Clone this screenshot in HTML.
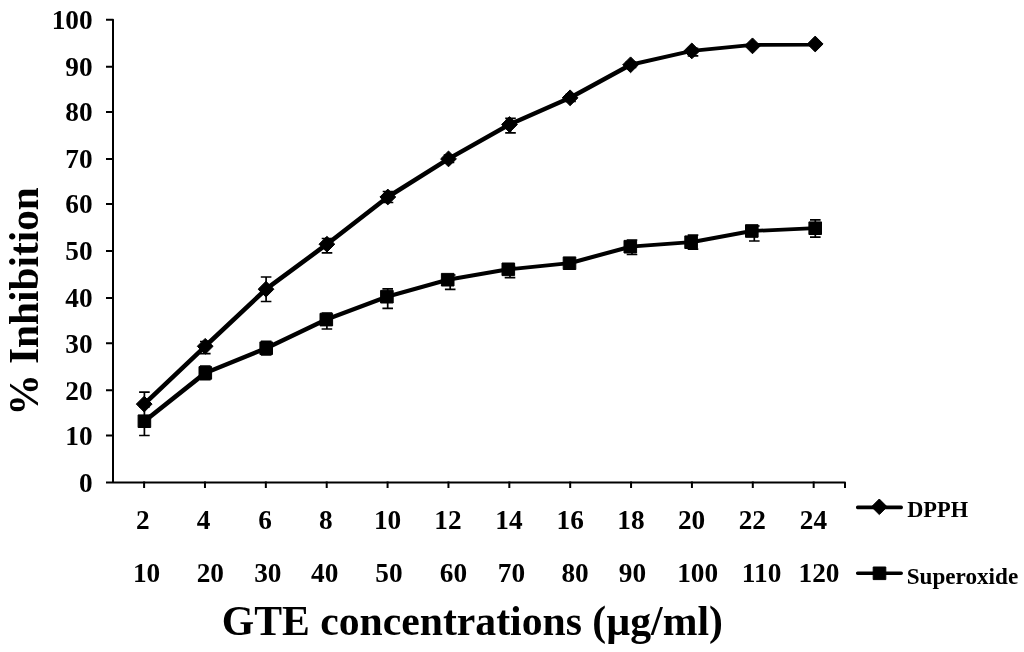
<!DOCTYPE html>
<html><head><meta charset="utf-8"><style>
html,body{margin:0;padding:0;background:#fff;width:1024px;height:652px;overflow:hidden}
svg{display:block;will-change:transform}
text{font-family:"Liberation Serif",serif;font-weight:bold;fill:#000}
</style></head><body>
<svg width="1024" height="652" viewBox="0 0 1024 652">
<rect width="1024" height="652" fill="#fff"/>

<g stroke="#000" stroke-width="2" fill="none" stroke-linecap="square">
<path d="M107,19.85 H113 V482.4 M107,482.4 H845 V487" stroke-linejoin="round"/>
<path d="M107,435.40H113M107,390.20H113M107,343.20H113M107,298.00H113M107,251.10H113M107,204.10H113M107,158.90H113M107,112.00H113M107,66.75H113"/>
<path d="M144.10,482.4V487M204.97,482.4V487M265.84,482.4V487M326.71,482.4V487M387.58,482.4V487M448.45,482.4V487M509.32,482.4V487M570.19,482.4V487M631.06,482.4V487M691.93,482.4V487M752.80,482.4V487M813.67,482.4V487"/>
</g>
<text x="92.6" y="491.70" font-size="27.3" text-anchor="end">0</text>
<text x="92.6" y="444.70" font-size="27.3" text-anchor="end">10</text>
<text x="92.6" y="399.50" font-size="27.3" text-anchor="end">20</text>
<text x="92.6" y="352.50" font-size="27.3" text-anchor="end">30</text>
<text x="92.6" y="307.30" font-size="27.3" text-anchor="end">40</text>
<text x="92.6" y="260.40" font-size="27.3" text-anchor="end">50</text>
<text x="92.6" y="213.40" font-size="27.3" text-anchor="end">60</text>
<text x="92.6" y="168.20" font-size="27.3" text-anchor="end">70</text>
<text x="92.6" y="121.30" font-size="27.3" text-anchor="end">80</text>
<text x="92.6" y="76.05" font-size="27.3" text-anchor="end">90</text>
<text x="92.6" y="29.15" font-size="27.3" text-anchor="end">100</text>
<text x="142.80" y="528.5" font-size="27.3" text-anchor="middle">2</text>
<text x="203.70" y="528.5" font-size="27.3" text-anchor="middle">4</text>
<text x="265.00" y="528.5" font-size="27.3" text-anchor="middle">6</text>
<text x="325.90" y="528.5" font-size="27.3" text-anchor="middle">8</text>
<text x="387.60" y="528.5" font-size="27.3" text-anchor="middle">10</text>
<text x="448.00" y="528.5" font-size="27.3" text-anchor="middle">12</text>
<text x="509.00" y="528.5" font-size="27.3" text-anchor="middle">14</text>
<text x="570.20" y="528.5" font-size="27.3" text-anchor="middle">16</text>
<text x="631.00" y="528.5" font-size="27.3" text-anchor="middle">18</text>
<text x="691.60" y="528.5" font-size="27.3" text-anchor="middle">20</text>
<text x="752.30" y="528.5" font-size="27.3" text-anchor="middle">22</text>
<text x="813.50" y="528.5" font-size="27.3" text-anchor="middle">24</text>
<text x="146.60" y="581.8" font-size="27.3" text-anchor="middle">10</text>
<text x="210.30" y="581.8" font-size="27.3" text-anchor="middle">20</text>
<text x="267.80" y="581.8" font-size="27.3" text-anchor="middle">30</text>
<text x="324.70" y="581.8" font-size="27.3" text-anchor="middle">40</text>
<text x="389.00" y="581.8" font-size="27.3" text-anchor="middle">50</text>
<text x="453.50" y="581.8" font-size="27.3" text-anchor="middle">60</text>
<text x="511.50" y="581.8" font-size="27.3" text-anchor="middle">70</text>
<text x="575.10" y="581.8" font-size="27.3" text-anchor="middle">80</text>
<text x="632.40" y="581.8" font-size="27.3" text-anchor="middle">90</text>
<text x="697.70" y="581.8" font-size="27.3" text-anchor="middle">100</text>
<text x="761.60" y="581.8" font-size="27.3" text-anchor="middle">110</text>
<text x="819.00" y="581.8" font-size="27.3" text-anchor="middle">120</text>
<text x="221.8" y="635.3" font-size="41.7">GTE concentrations (µg/ml)</text>
<text transform="translate(38.3,415.6) rotate(-90)" x="0" y="0" font-size="41.3">% Inhibition</text>
<path d="M144.40,392.10V416.00M139.10,392.10H149.70M139.10,416.00H149.70M205.30,341.50V353.60M200.00,341.50H210.60M200.00,353.60H210.60M266.10,277.00V301.50M260.80,277.00H271.40M260.80,301.50H271.40M327.00,238.50V252.90M321.70,238.50H332.30M321.70,252.90H332.30M388.00,191.50V202.50M382.70,191.50H393.30M382.70,202.50H393.30M449.00,155.00V162.50M443.70,155.00H454.30M443.70,162.50H454.30M510.50,118.40V132.80M505.20,118.40H515.80M505.20,132.80H515.80M570.50,94.50V101.30M565.20,94.50H575.80M565.20,101.30H575.80M631.00,62.00V67.50M625.70,62.00H636.30M625.70,67.50H636.30M693.00,48.30V55.80M687.70,48.30H698.30M687.70,55.80H698.30M753.00,44.50V47.00M747.70,44.50H758.30M747.70,47.00H758.30M815.30,43.00V45.00M810.00,43.00H820.60M810.00,45.00H820.60M144.40,407.00V435.50M139.10,407.00H149.70M139.10,435.50H149.70M205.30,366.00V379.70M200.00,366.00H210.60M200.00,379.70H210.60M266.20,341.40V355.00M260.90,341.40H271.50M260.90,355.00H271.50M326.90,313.00V329.00M321.60,313.00H332.20M321.60,329.00H332.20M387.70,288.80V308.30M382.40,288.80H393.00M382.40,308.30H393.00M450.20,275.00V289.30M444.90,275.00H455.50M444.90,289.30H455.50M510.00,266.70V277.70M504.70,266.70H515.30M504.70,277.70H515.30M569.50,258.00V268.00M564.20,258.00H574.80M564.20,268.00H574.80M632.00,240.00V254.50M626.70,240.00H637.30M626.70,254.50H637.30M693.00,235.20V249.20M687.70,235.20H698.30M687.70,249.20H698.30M754.30,226.00V241.00M749.00,226.00H759.60M749.00,241.00H759.60M815.30,219.90V237.20M810.00,219.90H820.60M810.00,237.20H820.60" stroke="#000" stroke-width="1.7" fill="none"/>
<g stroke="#000" stroke-linecap="round"><line x1="144.20" y1="404.10" x2="205.20" y2="346.30" stroke-width="4.60"/><line x1="205.20" y1="346.30" x2="266.00" y2="289.20" stroke-width="4.60"/><line x1="266.00" y1="289.20" x2="326.90" y2="244.20" stroke-width="4.56"/><line x1="326.90" y1="244.20" x2="387.80" y2="197.00" stroke-width="4.57"/><line x1="387.80" y1="197.00" x2="448.50" y2="158.90" stroke-width="4.50"/><line x1="448.50" y1="158.90" x2="509.50" y2="124.50" stroke-width="4.46"/><line x1="509.50" y1="124.50" x2="570.10" y2="97.80" stroke-width="4.34"/><line x1="570.10" y1="97.80" x2="630.60" y2="64.80" stroke-width="4.44"/><line x1="630.60" y1="64.80" x2="691.80" y2="50.90" stroke-width="4.03"/><line x1="691.80" y1="50.90" x2="752.50" y2="44.90" stroke-width="3.80"/><line x1="752.50" y1="44.90" x2="815.20" y2="44.80" stroke-width="3.60"/><line x1="144.40" y1="421.20" x2="205.30" y2="372.90" stroke-width="4.57"/><line x1="205.30" y1="372.90" x2="266.20" y2="348.20" stroke-width="4.30"/><line x1="266.20" y1="348.20" x2="326.30" y2="319.60" stroke-width="4.38"/><line x1="326.30" y1="319.60" x2="386.90" y2="296.70" stroke-width="4.26"/><line x1="386.90" y1="296.70" x2="447.70" y2="279.70" stroke-width="4.12"/><line x1="447.70" y1="279.70" x2="508.30" y2="269.30" stroke-width="3.93"/><line x1="508.30" y1="269.30" x2="569.50" y2="263.20" stroke-width="3.80"/><line x1="569.50" y1="263.20" x2="630.30" y2="246.70" stroke-width="4.11"/><line x1="630.30" y1="246.70" x2="691.10" y2="242.20" stroke-width="3.75"/><line x1="691.10" y1="242.20" x2="751.80" y2="231.00" stroke-width="3.96"/><line x1="751.80" y1="231.00" x2="815.20" y2="228.20" stroke-width="3.69"/></g>
<path d="M144.20,396.20L152.10,404.10L144.20,412.00L136.30,404.10ZM205.20,338.40L213.10,346.30L205.20,354.20L197.30,346.30ZM266.00,281.30L273.90,289.20L266.00,297.10L258.10,289.20ZM326.90,236.30L334.80,244.20L326.90,252.10L319.00,244.20ZM387.80,189.10L395.70,197.00L387.80,204.90L379.90,197.00ZM448.50,151.00L456.40,158.90L448.50,166.80L440.60,158.90ZM509.50,116.60L517.40,124.50L509.50,132.40L501.60,124.50ZM570.10,89.90L578.00,97.80L570.10,105.70L562.20,97.80ZM630.60,56.90L638.50,64.80L630.60,72.70L622.70,64.80ZM691.80,43.00L699.70,50.90L691.80,58.80L683.90,50.90ZM752.50,37.95L760.40,45.85L752.50,53.75L744.60,45.85ZM815.20,36.10L823.10,44.00L815.20,51.90L807.30,44.00Z" fill="#000" stroke="#000" stroke-width="1" stroke-linejoin="round"/>
<path d="M138.10,414.90h12.60v12.60h-12.60ZM199.00,366.60h12.60v12.60h-12.60ZM259.90,341.90h12.60v12.60h-12.60ZM320.00,313.30h12.60v12.60h-12.60ZM380.60,290.40h12.60v12.60h-12.60ZM441.40,273.40h12.60v12.60h-12.60ZM502.00,263.00h12.60v12.60h-12.60ZM563.20,256.90h12.60v12.60h-12.60ZM624.00,240.40h12.60v12.60h-12.60ZM684.80,235.90h12.60v12.60h-12.60ZM745.50,224.70h12.60v12.60h-12.60ZM808.90,221.90h12.60v12.60h-12.60Z" fill="#000" stroke="#000" stroke-width="1" stroke-linejoin="round"/>
<path d="M857.7,507.4H901.2M857.7,573.2H901.2" stroke="#000" stroke-width="3.6" stroke-linecap="round"/>
<path d="M879.30,499.00L887.10,506.80L879.30,514.60L871.50,506.80ZM873.20,567.00h12.60v12.60h-12.60Z" fill="#000" stroke="#000" stroke-width="1" stroke-linejoin="round"/>
<text x="907.2" y="516.8" font-size="24" textLength="61" lengthAdjust="spacingAndGlyphs">DPPH</text>
<text x="906.7" y="583.5" font-size="23.5" textLength="111.5" lengthAdjust="spacingAndGlyphs">Superoxide</text>
</svg></body></html>
